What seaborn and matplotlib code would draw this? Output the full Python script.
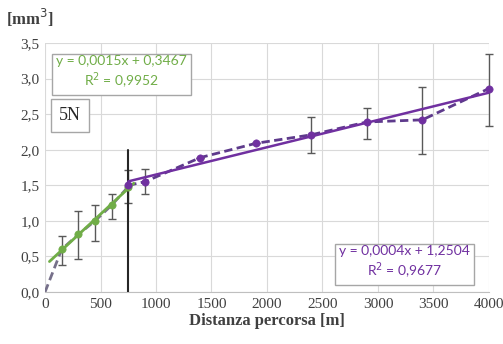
import numpy as np
import pandas as pd
import matplotlib
matplotlib.use("Agg")
import matplotlib.pyplot as plt
import seaborn as sns

# Data (distance in m, wear volume in mm3)
green_x = [0, 150, 300, 450, 600, 750]
green_y = [0.0, 0.60, 0.81, 1.00, 1.22, 1.48]
green_err_lo = [0.0, 0.22, 0.35, 0.28, 0.20, 0.23]
green_err_hi = [0.0, 0.19, 0.33, 0.22, 0.16, 0.23]

purple_x = [750, 900, 1400, 1900, 2400, 2900, 3400, 4000]
purple_y = [1.50, 1.55, 1.89, 2.09, 2.21, 2.39, 2.42, 2.86]
purple_err_lo = [0.0, 0.17, 0.0, 0.0, 0.25, 0.24, 0.48, 0.52]
purple_err_hi = [0.0, 0.18, 0.0, 0.0, 0.25, 0.20, 0.46, 0.48]

marker_x = 750
marker_top = 2.0

green_eq = "y = 0,0015x + 0,3467\nR$^2$ = 0,9952"
purple_eq = "y = 0,0004x + 1,2504\nR$^2$ = 0,9677"
load_label = "5N"

x_ticks = [0, 500, 1000, 1500, 2000, 2500, 3000, 3500, 4000]
y_ticks = [0.0, 0.5, 1.0, 1.5, 2.0, 2.5, 3.0, 3.5]

GREEN = "#70AD47"
PURPLE = "#7030A0"
ERR = "#595959"

sns.set_style("whitegrid", {"grid.color": "#d9d9d9", "axes.edgecolor": "#d9d9d9"})
plt.rcParams["font.family"] = ["Liberation Serif", "DejaVu Serif"]

fig = plt.figure(figsize=(5.03, 3.44), dpi=100)
ax = fig.add_axes([0.0895, 0.151, 0.8825, 0.724])

gdf = pd.DataFrame({"x": green_x, "y": green_y})
pdf = pd.DataFrame({"x": purple_x, "y": purple_y})

# dashed series lines
sns.lineplot(data=gdf, x="x", y="y", ax=ax, color="#76708a", linestyle=(0, (3, 1.6)), lw=2, zorder=2)
sns.lineplot(data=pdf, x="x", y="y", ax=ax, color="#5e3a8c", linestyle=(0, (3, 1.6)), lw=2, zorder=3)

# error bars
ax.errorbar(green_x[1:], green_y[1:], yerr=[green_err_lo[1:], green_err_hi[1:]],
            fmt="none", ecolor=ERR, elinewidth=1, capsize=3, capthick=1, zorder=4)
eb = ax.errorbar(purple_x[1:], purple_y[1:], yerr=[purple_err_lo[1:], purple_err_hi[1:]],
                 fmt="none", ecolor=ERR, elinewidth=1, capsize=3, capthick=1, zorder=4)
for art in eb.lines[1] + eb.lines[2]:
    art.set_clip_on(False)

# vertical marker at end of running-in
ax.plot([marker_x, marker_x], [0, marker_top], color="#262626", lw=1.5, zorder=5)

# linear trendlines
gfit = np.polyfit(green_x[1:], green_y[1:], 1)
pfit = np.polyfit(purple_x, purple_y, 1)
gx = np.array([40, 800])
px = np.array([750, 4000])
ax.plot(gx, np.polyval(gfit, gx), color=GREEN, lw=2, zorder=6)
ax.plot(px, np.polyval(pfit, px), color=PURPLE, lw=1.8, zorder=6)

# markers
sns.scatterplot(data=gdf.iloc[1:], x="x", y="y", ax=ax, color=GREEN, s=28, edgecolor=GREEN, zorder=7)
sns.scatterplot(data=pdf, x="x", y="y", ax=ax, color=PURPLE, s=28, edgecolor=PURPLE, zorder=7, clip_on=False)

ax.set_xlim(0, 4000)
ax.set_ylim(0, 3.5)
ax.set_xticks(x_ticks)
ax.set_yticks(y_ticks)
ax.set_xticklabels([str(t) for t in x_ticks])
ax.set_yticklabels([f"{t:.1f}".replace(".", ",") for t in y_ticks])
ax.tick_params(axis="both", labelsize=11, colors="#404040", length=0, pad=4)
ax.set_xlabel("Distanza percorsa [m]", fontsize=12, fontweight="bold", color="#404040", labelpad=2)
ax.set_ylabel("")
for s in ["left", "top", "right"]:
    ax.spines[s].set_visible(False)
ax.spines["bottom"].set_color("#bfbfbf")

fig.text(0.012, 0.948, "[mm$^3$]", fontsize=12, fontweight="bold", color="#404040", va="center")

box = dict(boxstyle="square,pad=0.3", fc="white", ec="#a6a6a6", lw=1)
ax.text(0.173, 0.88, green_eq, transform=ax.transAxes, ha="center", va="center",
        fontsize=10, color=GREEN, family=["Lato", "DejaVu Sans"], linespacing=1.2, bbox=box, zorder=10)
ax.text(0.032, 0.71, load_label, transform=ax.transAxes, ha="left", va="center",
        fontsize=13, color="#262626", bbox=dict(boxstyle="square,pad=0.45", fc="white", ec="#a6a6a6", lw=1), zorder=10)
ax.text(0.81, 0.117, purple_eq, transform=ax.transAxes, ha="center", va="center",
        fontsize=10, color=PURPLE, family=["Lato", "DejaVu Sans"], linespacing=1.2, bbox=box, zorder=10)

fig.savefig("out.png", dpi=100)
